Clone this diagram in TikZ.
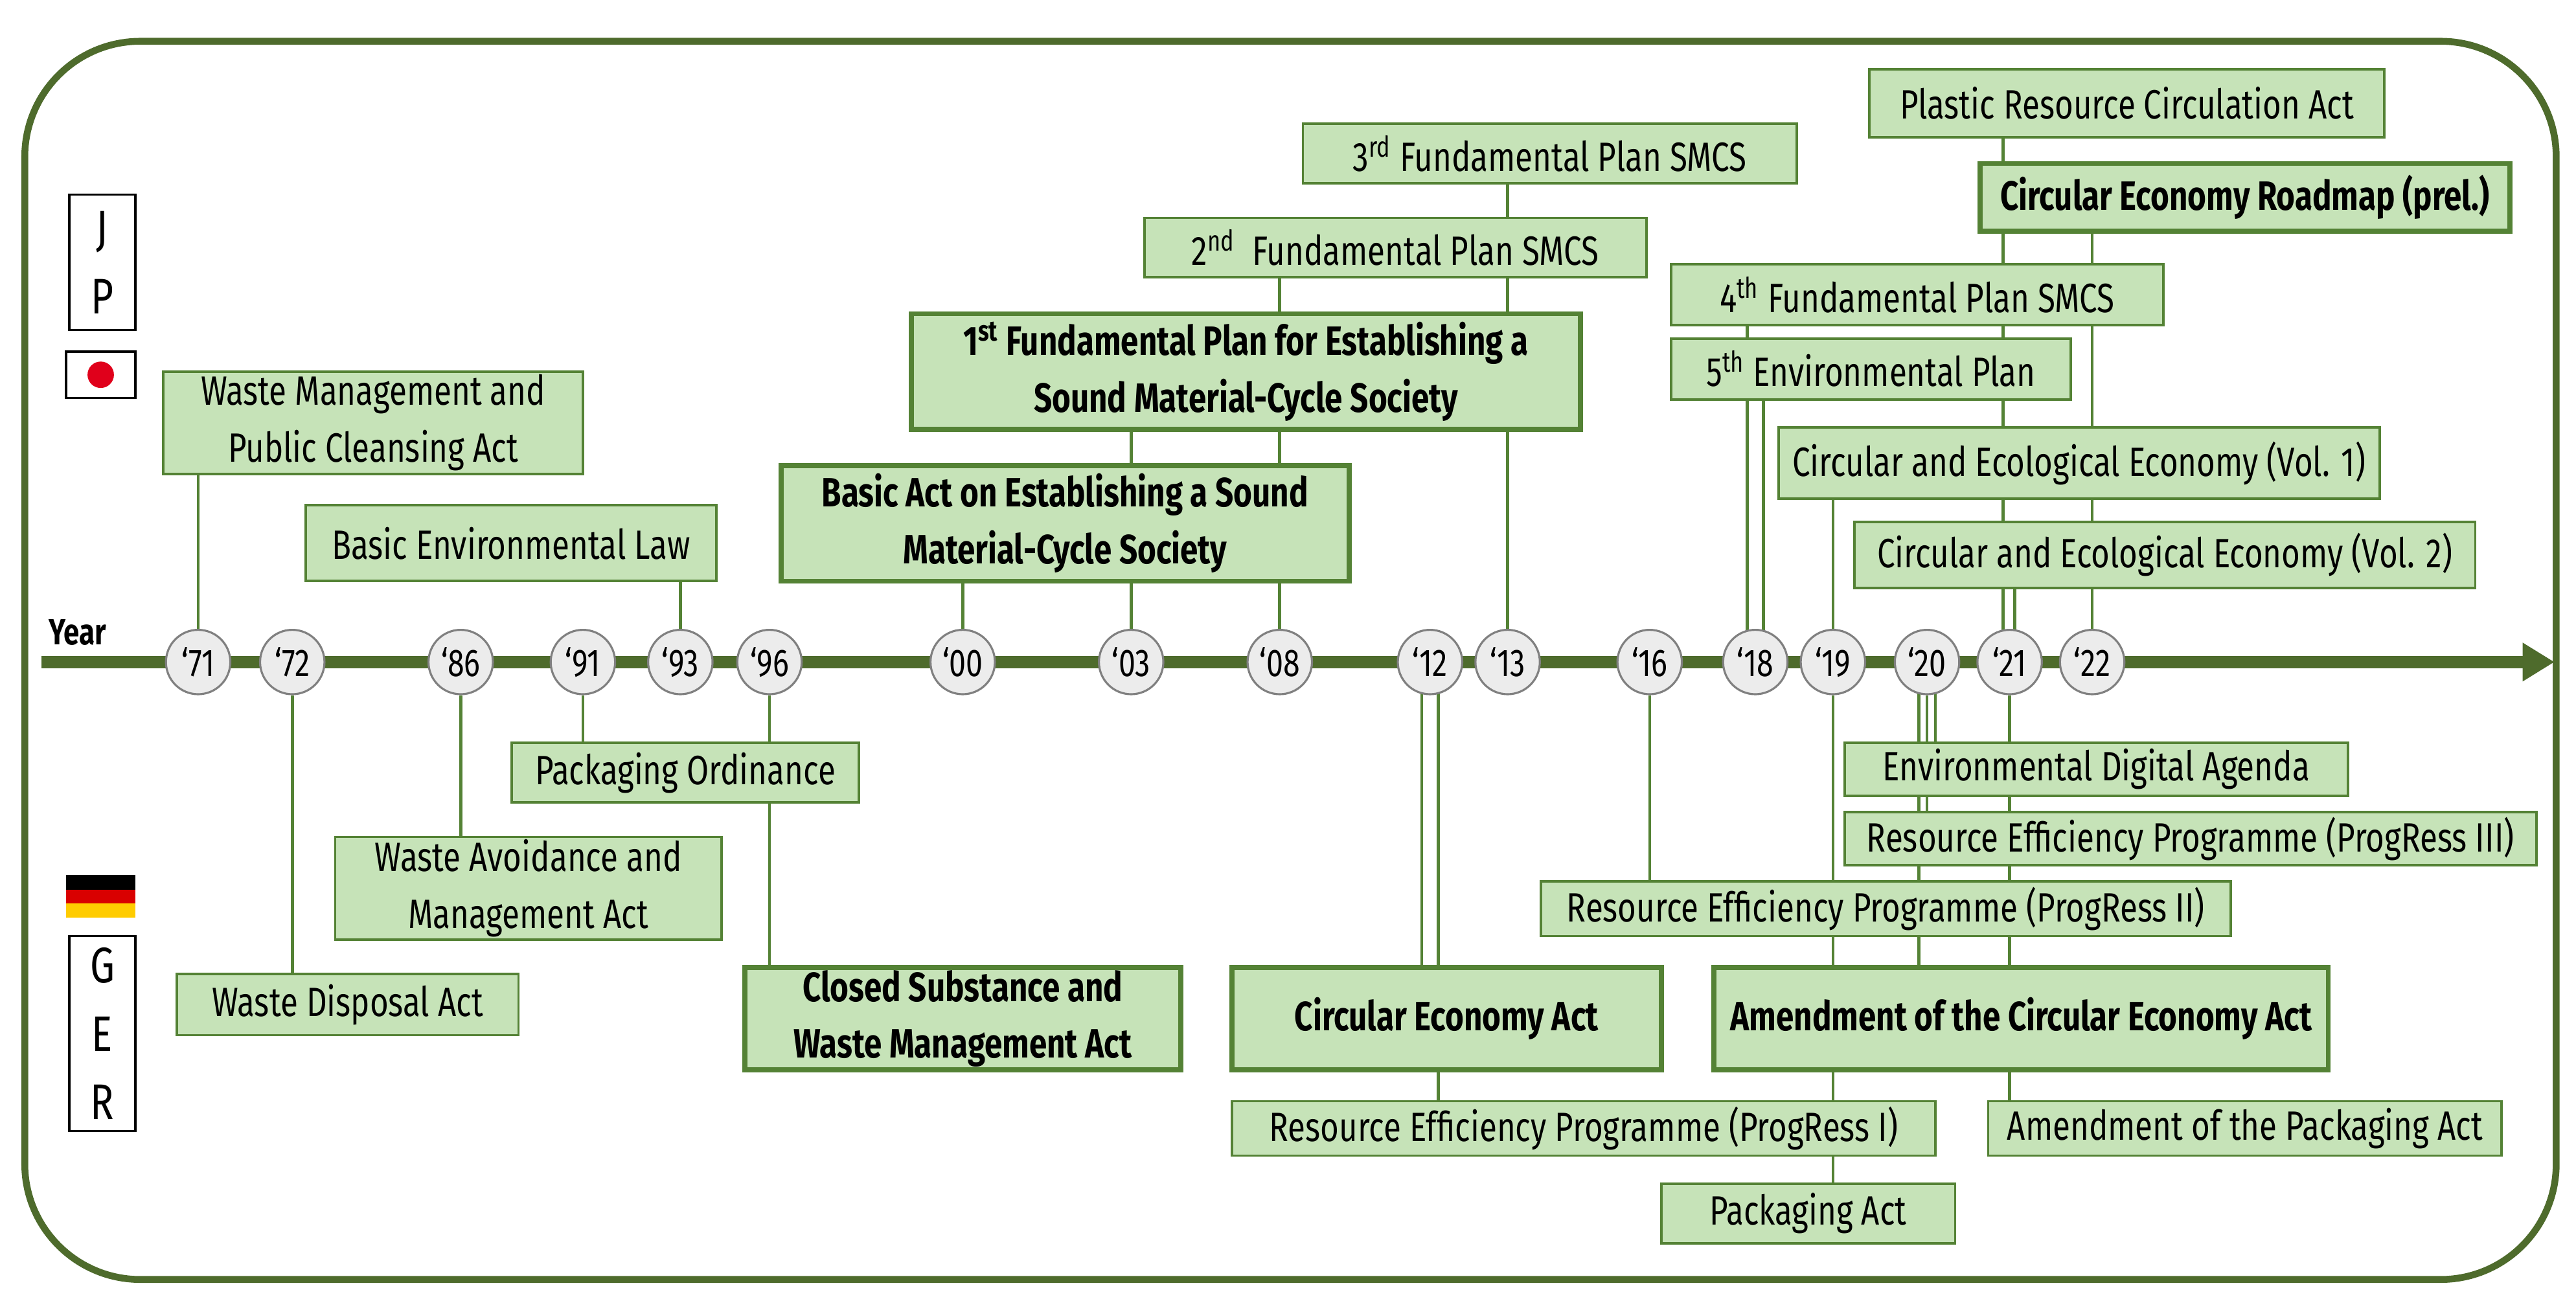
\documentclass[tikz,border=0pt]{standalone}
\usepackage{fontspec}
\setmainfont{Fira Sans}[FakeStretch=0.78]
\usetikzlibrary{backgrounds,arrows.meta}
\definecolor{bfill}{HTML}{C6E3B8}
\definecolor{bdraw}{HTML}{548235}
\definecolor{frame}{HTML}{4E6B2C}
\definecolor{cfill}{HTML}{ECECEC}
\definecolor{gold}{HTML}{FFCC00}
\definecolor{jred}{HTML}{E0001B}
\newcommand\mybox[6]{\node[#1, minimum width={(#4-#2)*0.02549cm}, minimum height={(#5-#3)*0.02549cm}] (#6) at ({(#2+#4)/2},{(#3+#5)/2})}
\begin{document}
\begin{tikzpicture}[x=0.02549cm,y=-0.02549cm,
  box/.style={draw=bdraw, fill=bfill, line width=1.1pt, inner sep=0pt, align=center, font=\fontsize{18}{25}\selectfont},
  bbox/.style={box, line width=2.2pt, font=\fontsize{18}{25}\selectfont\bfseries},
  yr/.style={circle, draw=gray, fill=cfill, line width=0.9pt, minimum size=39*0.02549cm, inner sep=0pt, font=\fontsize{17}{17}\selectfont},
  con/.style={draw=bdraw, line width=1.3pt},
  lab/.style={draw=black, fill=white, line width=0.9pt, inner sep=0pt, align=center, font=\fontsize{22}{30}\selectfont}]
\useasboundingbox (0,0) rectangle (1560,788);
\draw[frame, line width=3pt, rounded corners=70*0.02549cm] (15,25) rectangle (1548,775);
% timeline
\coordinate (tl0) at (25,401);
\coordinate (tl1) at (1547,401);
\draw[frame, line width=5.5pt, -{Triangle[length=14pt,width=16pt]}] (tl0) -- (tl1);
\node[font=\fontsize{16}{16}\selectfont\bfseries] (year) at (47,383) {Year};
% labels and flags
\mybox{lab}{42}{118}{82}{200}{jp}{J\\P};
\mybox{lab}{40}{213}{82}{241}{jpflag}{};
\fill[jred] (jpflag.center) circle (8);
\mybox{lab}{42}{567}{82}{685}{ger}{G\\E\\R};
\fill[black] (40,530) rectangle (82,539);
\fill[red!85!black] (40,539) rectangle (82,547);
\fill[gold] (40,547) rectangle (82,556);
\node[inner sep=0pt, minimum width=42*0.02549cm, minimum height=26*0.02549cm] (gerflag) at (61,543) {};
% years
\foreach \n/\x in {71/120,72/177,86/279,91/353,93/412,96/466,00/583,03/685,08/775,12/866,13/913,16/999,18/1063,19/1110,20/1167,21/1217,22/1267}
  \node[yr] (y\n) at (\x,401) {`\n};
% Japan boxes
\mybox{box}{99}{225}{353}{287}{wm}{Waste Management and\\Public Cleansing Act};
\mybox{box}{185}{306}{434}{352}{bel}{Basic Environmental Law};
\mybox{bbox}{473}{282}{817}{352}{ba}{Basic Act on Establishing a Sound\\Material-Cycle Society};
\mybox{bbox}{552}{190}{957}{260}{fp1}{1\textsuperscript{st} Fundamental Plan for Establishing a\\Sound Material-Cycle Society};
\mybox{box}{693}{132}{997}{168}{fp2}{2\textsuperscript{nd}\ \ Fundamental Plan SMCS};
\mybox{box}{789}{75}{1088}{111}{fp3}{3\textsuperscript{rd} Fundamental Plan SMCS};
\mybox{box}{1132}{42}{1444}{83}{pra}{Plastic Resource Circulation Act};
\mybox{bbox}{1199}{99}{1520}{140}{cer}{Circular Economy Roadmap (prel.)};
\mybox{box}{1012}{160}{1310}{197}{fp4}{4\textsuperscript{th} Fundamental Plan SMCS};
\mybox{box}{1012}{205}{1254}{242}{ep5}{5\textsuperscript{th} Environmental Plan};
\mybox{box}{1077}{259}{1441}{302}{ce1}{Circular and Ecological Economy (Vol. 1)};
\mybox{box}{1123}{316}{1499}{356}{ce2}{Circular and Ecological Economy (Vol. 2)};
% Germany boxes
\mybox{box}{107}{590}{314}{627}{wda}{Waste Disposal Act};
\mybox{box}{203}{507}{437}{569}{wam}{Waste Avoidance and\\Management Act};
\mybox{box}{310}{450}{520}{486}{po}{Packaging Ordinance};
\mybox{bbox}{451}{586}{715}{648}{cs}{Closed Substance and\\Waste Management Act};
\mybox{bbox}{746}{586}{1006}{648}{cea}{Circular Economy Act};
\mybox{box}{746}{667}{1172}{700}{pr1}{Resource Efficiency Programme (ProgRess I)};
\mybox{box}{1006}{717}{1184}{753}{pa}{Packaging Act};
\mybox{bbox}{1038}{586}{1410}{648}{acea}{Amendment of the Circular Economy Act};
\mybox{box}{1204}{667}{1515}{700}{apa}{Amendment of the Packaging Act};
\mybox{box}{933}{534}{1351}{567}{pr2}{Resource Efficiency Programme (ProgRess II)};
\mybox{box}{1117}{492}{1536}{524}{pr3}{Resource Efficiency Programme (ProgRess III)};
\mybox{box}{1117}{450}{1422}{482}{eda}{Environmental Digital Agenda};
% connectors
\begin{scope}[on background layer]
\coordinate (c1058) at (1058,401);
\coordinate (c1068) at (1068,401);
\coordinate (c1213) at (1213,401);
\coordinate (c1220) at (1220,401);
\coordinate (c861) at (861,401);
\coordinate (c871) at (871,401);
\coordinate (c1162) at (1162,401);
\coordinate (c1172) at (1172,401);
\draw[con] (y71) -- (y71 |- wm.south);
\draw[con] (y93) -- (y93 |- bel.south);
\draw[con] (y00) -- (y00 |- ba.south);
\draw[con] (y03) -- (y03 |- fp1.south);
\draw[con] (y08) -- (y08 |- fp2.south);
\draw[con] (y13) -- (y13 |- fp3.south);
\draw[con] (c1058) -- (c1058 |- fp4.south);
\draw[con] (c1068) -- (c1068 |- ep5.south);
\draw[con] (y19) -- (y19 |- ce1.south);
\draw[con] (c1213) -- (c1213 |- pra.south);
\draw[con] (c1220) -- (c1220 |- ce2.south);
\draw[con] (y22) -- (y22 |- cer.south);
\draw[con] (y72) -- (y72 |- wda.north);
\draw[con] (y86) -- (y86 |- wam.north);
\draw[con] (y91) -- (y91 |- po.north);
\draw[con] (y96) -- (y96 |- cs.north);
\draw[con] (c861) -- (c861 |- cea.north);
\draw[con] (c871) -- (c871 |- pr1.north);
\draw[con] (y16) -- (y16 |- pr2.north);
\draw[con] (y19) -- (y19 |- pa.north);
\draw[con] (c1162) -- (c1162 |- acea.north);
\draw[con] (y20) -- (y20 |- pr3.north);
\draw[con] (c1172) -- (c1172 |- eda.north);
\draw[con] (y21) -- (y21 |- apa.north);
\end{scope}
\end{tikzpicture}
\end{document}
